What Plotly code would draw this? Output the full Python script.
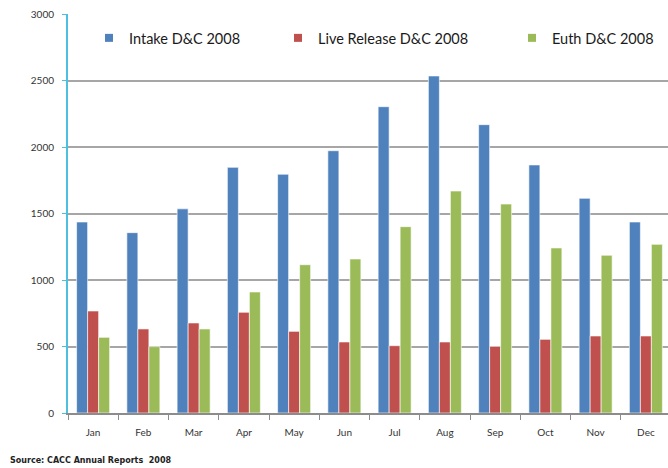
import plotly.graph_objs as go

months = ['Jan', 'Feb', 'Mar', 'Apr', 'May', 'Jun', 'Jul', 'Aug', 'Sep', 'Oct', 'Nov', 'Dec']
intake = [1436, 1356, 1535, 1847, 1795, 1972, 2303, 2534, 2168, 1865, 1614, 1436]
live_release = [767, 632, 677, 757, 614, 534, 506, 534, 501, 554, 579, 579]
euth = [569, 499, 632, 910, 1115, 1158, 1401, 1669, 1571, 1241, 1186, 1268]
y_ticks = [0, 500, 1000, 1500, 2000, 2500, 3000]

BLUE = '#4F81BD'
RED = '#C0504D'
GREEN = '#9BBB59'
FONT = 'Lato'

series = [
    ('Intake D&C 2008', intake, BLUE, 'legend'),
    ('Live Release D&C 2008', live_release, RED, 'legend2'),
    ('Euth D&C 2008', euth, GREEN, 'legend3'),
]

gos = []
for name, values, color, leg in series:
    gos.append(go.Bar(
        x=months,
        y=values,
        name=name,
        marker=dict(color=color, line=dict(color='rgba(255,255,255,0.6)', width=1)),
        showlegend=False,
    ))
    # small square legend markers, like the original
    gos.append(go.Scatter(
        x=[None],
        y=[None],
        mode='markers',
        name=name,
        marker=dict(symbol='square', size=8, color=color),
        legend=leg,
    ))

legend_style = dict(
    orientation='h',
    yanchor='middle',
    y=0.94,
    xanchor='left',
    bgcolor='rgba(0,0,0,0)',
    font=dict(family=FONT, size=14.5, color='#1a1a1a'),
    itemwidth=30,
)

layout = dict(
    width=668,
    height=468,
    plot_bgcolor='white',
    paper_bgcolor='white',
    barmode='group',
    bargap=0.343,
    bargroupgap=0,
    margin=dict(l=68, r=0, t=14, b=55),
    font=dict(family=FONT, size=10, color='#333333'),
    legend=dict(legend_style, x=0.035),
    legend2=dict(legend_style, x=0.35),
    legend3=dict(legend_style, x=0.74),
    xaxis=dict(
        range=[-0.5, 11.44],
        tickson='boundaries',
        ticks='outside',
        ticklen=5,
        tickcolor='#8c8c8c',
        showline=True,
        linecolor='#8c8c8c',
        linewidth=1.5,
        showgrid=False,
        ticklabelstandoff=9,
        tickfont=dict(family=FONT, size=10, color='#333333'),
        fixedrange=True,
    ),
    yaxis=dict(
        range=[0, 3000],
        tickvals=y_ticks,
        ticks='outside',
        ticklen=4,
        tickcolor='#4DC0E0',
        showline=True,
        linecolor='#4DC0E0',
        linewidth=2,
        showgrid=True,
        gridcolor='#a6a6a6',
        gridwidth=1.5,
        zeroline=False,
        ticklabelstandoff=6,
        tickfont=dict(family=FONT, size=10, color='#333333'),
        fixedrange=True,
    ),
    annotations=[dict(
        text='<b>Source: CACC Annual Reports  2008</b>',
        xref='paper', yref='paper',
        x=-0.1, y=-0.118,
        xanchor='left', yanchor='middle',
        showarrow=False,
        font=dict(family='DejaVu Sans', size=8, color='#222222'),
    )],
)

fig = go.Figure(data=gos, layout=layout)
fig.write_html(
    'out.html',
    config=dict(displayModeBar=False),
    post_script="document.body.style.margin='0';",
)
